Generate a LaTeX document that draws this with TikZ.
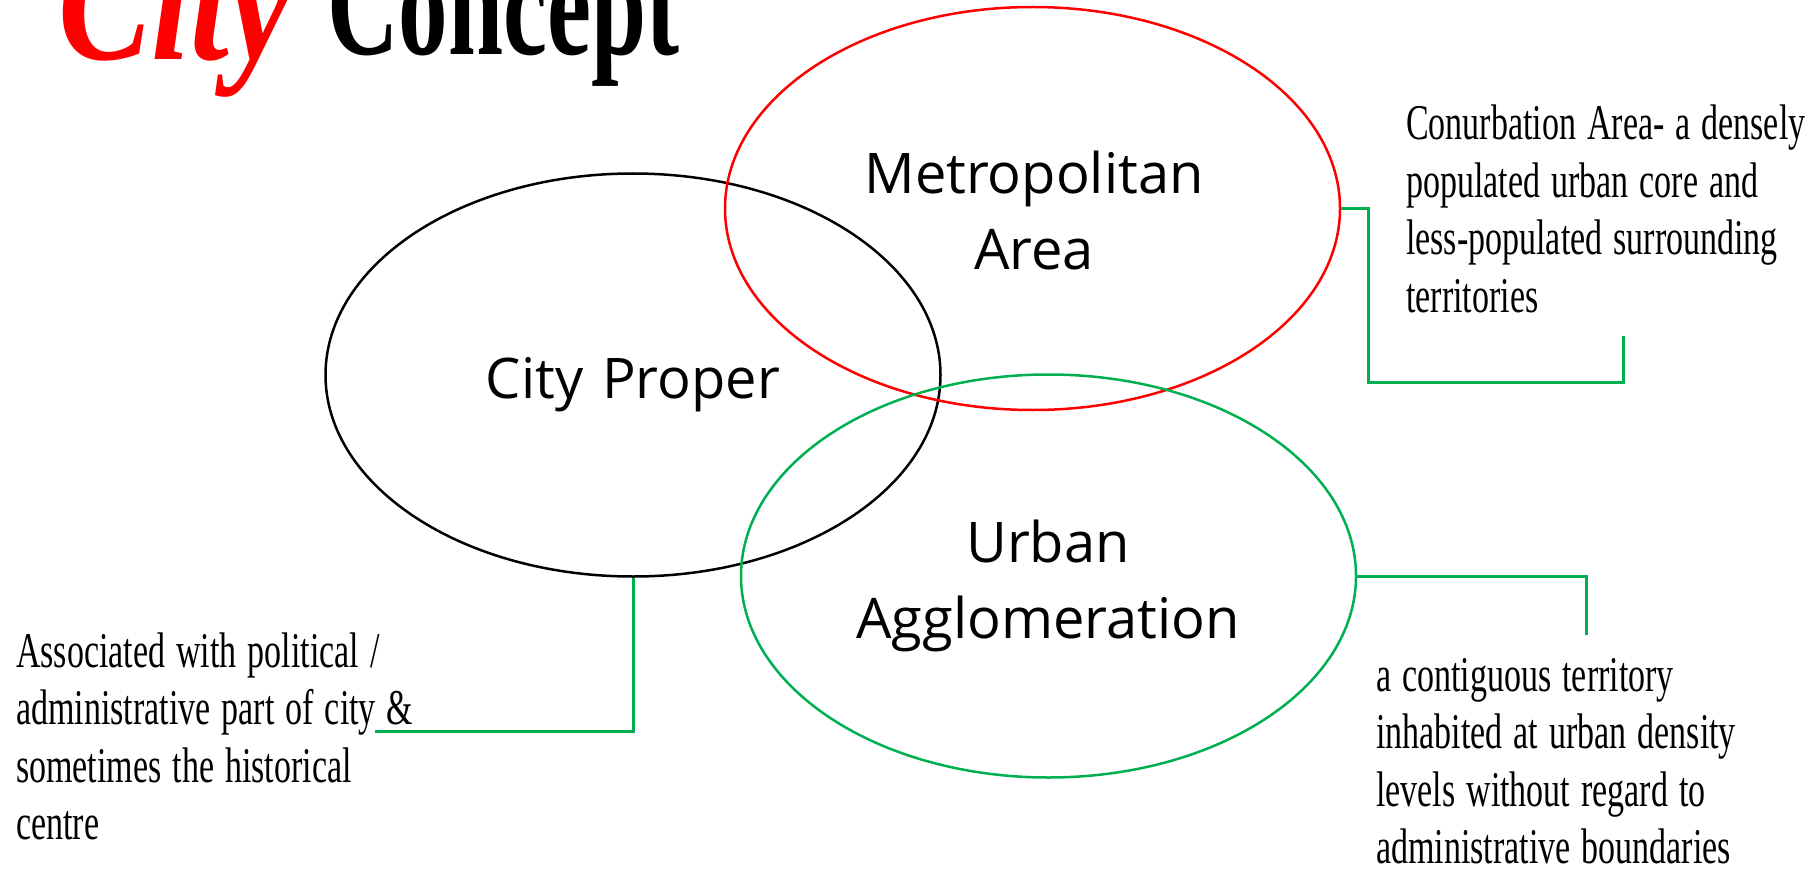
\documentclass[tikz,border=0pt]{standalone}
\usepackage{fontspec}
\setmainfont{Open Sans}
\newfontfamily\notefont[FakeStretch=0.68]{Liberation Serif}
\newfontfamily\titlescript[FakeStretch=0.8]{Liberation Serif}
\newfontfamily\titlecond[FakeStretch=0.66]{Liberation Serif}
\usetikzlibrary{shapes.geometric}
\definecolor{vgreen}{HTML}{00B050}
\definecolor{vred}{HTML}{FF0000}
% condensed note face with a matching word space
\newcommand\notesize{\notefont\fontsize{50}{57.5}\selectfont\fontdimen2\font=11pt\relax}

\begin{document}
\begin{tikzpicture}[x=1pt,y=-1pt,
  zone/.style={ellipse, draw, line width=2.5pt, minimum width=615pt, minimum height=403pt, inner sep=0pt},
  zonelabel/.style={font=\fontsize{56}{76}\selectfont, align=center, text width=600pt, inner sep=0pt, anchor=base},
  note/.style={font=\notesize, align=flush left, text width=520pt, inner sep=0pt, anchor=base west},
  leader/.style={draw=vgreen, line width=3pt}]
\clip (0,0) rectangle (1810,869);
\fill[white] (0,0) rectangle (1810,869);

% title, partly above the page edge
\node[anchor=base west, inner sep=0pt, text=vred,
      font=\titlescript\bfseries\itshape\fontsize{175}{175}\selectfont] (titlea) at (58,60) {City};
\node[anchor=base west, inner sep=0pt,
      font=\titlecond\bfseries\fontsize{150}{150}\selectfont] (titleb) at (327,55) {Concept};

% the three overlapping areas
\node[zone, draw=black] (cp) at (633,375) {};
\node[zone, draw=vred]  (ma) at (1032.5,208.5) {};
\node[zone, draw=vgreen] (ua) at (1048.5,576) {};

\node[zonelabel] (cpt) at (633,398) {City Proper};
\node[zonelabel] (mat) at (1034,194) {Metropolitan\\Area};
\node[zonelabel] (uat) at (1048,562) {Urban\\Agglomeration};

% explanatory notes
\node[note] (man) at (1406,140) {Conurbation Area- a densely\\populated urban core and\\less-populated surrounding\\territories};
\node[note] (uan) at (1376,691) {a contiguous territory\\inhabited at urban density\\levels without regard to\\administrative boundaries};
\node[note] (cpn) at (16,667) {Associated with political /\\administrative part of city \&\\sometimes the historical\\centre};

% leader lines
\coordinate (mak) at (1623,382);
\coordinate (maend) at (1623,336);
\coordinate (uaend) at (1586,635);
\coordinate (cpend) at (375,731);
\draw[leader] (ma.east) -- ++(27,0) |- (mak) -- (maend);
\draw[leader] (ua.east) -| (uaend);
\draw[leader] (cp.south) |- (cpend);
\end{tikzpicture}
\end{document}
